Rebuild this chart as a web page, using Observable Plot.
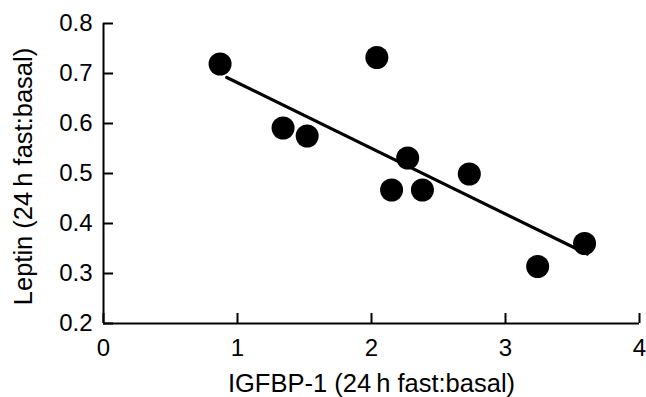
<!DOCTYPE html>
<html><head><meta charset="utf-8">
<script src="https://cdn.jsdelivr.net/npm/d3@7"></script>
<script src="https://cdn.jsdelivr.net/npm/@observablehq/plot@0.6"></script>
<style>body{margin:0;background:#fff}</style>
</head><body><div id="chart"></div>
<script>
// IGFBP-1 vs leptin ratios (24 h fast : basal)
const igfbp1 = [0.87, 1.34, 1.52, 2.04, 2.27, 2.15, 2.38, 2.73, 3.24, 3.59];
const leptin = [0.719, 0.591, 0.575, 0.732, 0.531, 0.467, 0.467, 0.499, 0.314, 0.360];
// fitted regression line end points
const fitX = [0.92, 3.61];
const fitY = [0.692, 0.339];
const xTicks = [0, 1, 2, 3, 4];
const yTicks = [0.2, 0.3, 0.4, 0.5, 0.6, 0.7, 0.8];
const xTitle = "IGFBP-1 (24\u2009h fast:basal)";
const yTitle = "Leptin (24\u2009h fast:basal)";

const points = igfbp1.map((x, i) => ({x, y: leptin[i]}));
const fit = fitX.map((x, i) => ({x, y: fitY[i]}));

const W = 646, H = 397, ML = 103, MR = 7, MT = 23, MB = 74;
const TICK = 10;

const chart = Plot.plot({
  width: W, height: H,
  marginLeft: ML, marginRight: MR, marginTop: MT, marginBottom: MB,
  style: {fontFamily: "Arial, 'Liberation Sans', sans-serif", background: "#fff", color: "#000"},
  x: {domain: [0, 4]},
  y: {domain: [0.2, 0.8]},
  marks: [
    Plot.ruleY([0.2], {strokeWidth: 2}),
    Plot.ruleX([0], {strokeWidth: 2}),
    // inward ticks
    Plot.ruleX(xTicks, {x: d => d, strokeWidth: 2, insetTop: (H - MT - MB) - TICK}),
    Plot.ruleY(yTicks, {y: d => d, strokeWidth: 2, insetRight: (W - ML - MR) - TICK}),
    // tick labels
    Plot.axisX(xTicks, {tickSize: 0, tickPadding: 15, fontSize: 24, tickFormat: d => String(d), label: null}),
    Plot.axisY(yTicks, {tickSize: 0, tickPadding: 11, fontSize: 24, tickFormat: d => d.toFixed(1), label: null}),
    Plot.line(fit, {x: "x", y: "y", strokeWidth: 3.2, stroke: "#000"}),
    Plot.dot(points, {x: "x", y: "y", r: 11.5, fill: "#000", stroke: null}),
    Plot.text([xTitle], {frameAnchor: "bottom", dy: 60, lineAnchor: "middle", fontSize: 25.5, fill: "#000"}),
    Plot.text([yTitle], {frameAnchor: "left", textAnchor: "middle", dx: -80, dy: 3, rotate: -90, lineAnchor: "middle", fontSize: 25.5, fill: "#000"})
  ]
});
document.getElementById("chart").appendChild(chart);
</script>
</body></html>
